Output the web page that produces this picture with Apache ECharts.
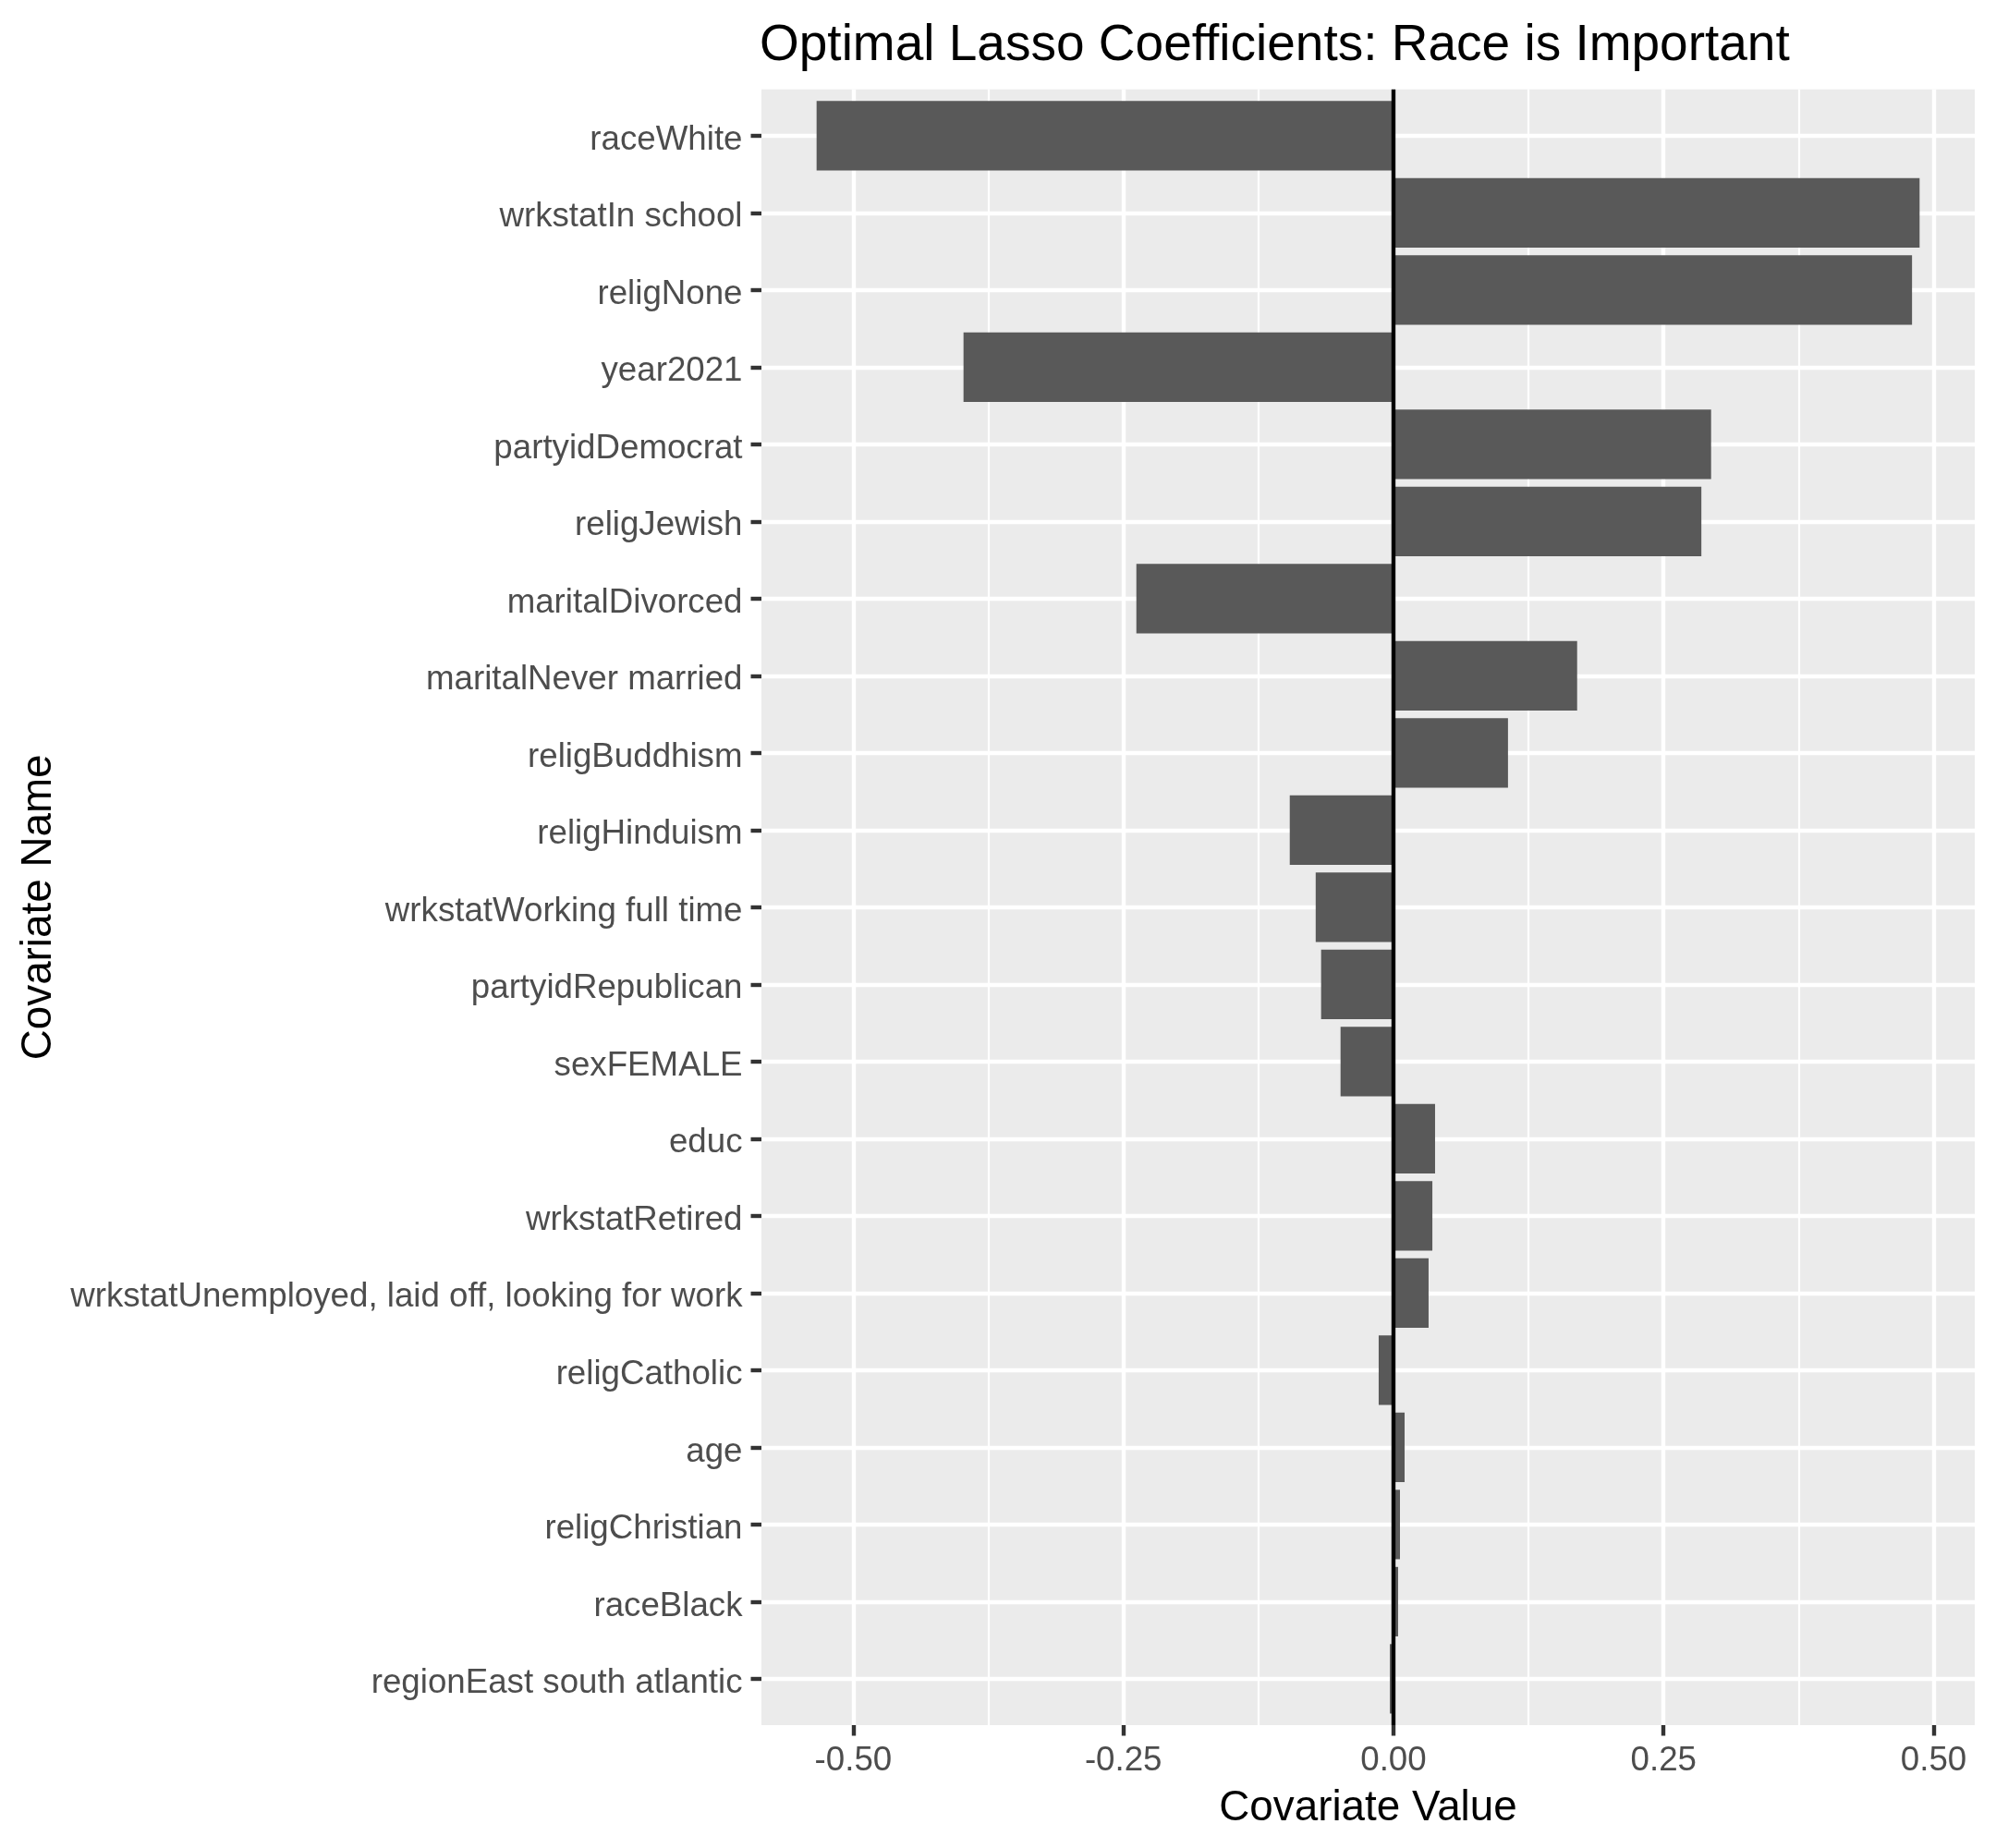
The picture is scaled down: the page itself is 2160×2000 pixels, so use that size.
<html>
<head>
<meta charset="utf-8">
<title>Optimal Lasso Coefficients</title>
<script src="https://cdn.jsdelivr.net/npm/echarts@6.0.0/dist/echarts.min.js"></script>
<style>
    body{
      margin:0;
      background:#ffffff;
    }
    #container{
      width:2160px;
      height:2000px;
    }
</style>
</head>
<body>
<div id="container"></div>
<script type="text/javascript">
    // covariates, top to bottom
    var covariates = ['raceWhite', 'wrkstatIn school', 'religNone', 'year2021', 'partyidDemocrat',
        'religJewish', 'maritalDivorced', 'maritalNever married', 'religBuddhism', 'religHinduism',
        'wrkstatWorking full time', 'partyidRepublican', 'sexFEMALE', 'educ', 'wrkstatRetired',
        'wrkstatUnemployed, laid off, looking for work', 'religCatholic', 'age', 'religChristian',
        'raceBlack', 'regionEast south atlantic'];
    var coefValues = [-0.534, 0.487, 0.480, -0.398, 0.294,
        0.285, -0.238, 0.170, 0.106, -0.096,
        -0.072, -0.067, -0.049, 0.0385, 0.036,
        0.0325, -0.0137, 0.0103, 0.006,
        0.0043, -0.0034];
    var majorTicks = [-0.50, -0.25, 0.00, 0.25, 0.50];
    var minorTicks = [-0.375, -0.125, 0.125, 0.375];
    var zeroLine = [[0, 0], [0, 1]];

    // ggplot style 5% expansion of the x range
    var lo = Math.min.apply(null, coefValues);
    var hi = Math.max.apply(null, coefValues);
    var xMin = lo - 0.05 * (hi - lo);
    var xMax = hi + 0.05 * (hi - lo);

    var font = 'Liberation Sans, Arial, sans-serif';
    var panelTop = 96.7, panelBottom = 1867;
    // discrete axis: 0.6 band expansion at each end
    var band = (panelBottom - panelTop) / (covariates.length - 1 + 1.2);
    var dataTop = panelTop + 0.1 * band;
    var dataBottom = panelBottom - 0.1 * band;

    var dom = document.getElementById("container");
    var myChart = echarts.init(dom, null, {renderer: 'canvas'});
    var option;
    option = {
      animation: false,
      backgroundColor: '#ffffff',
      title: {
        text: 'Optimal Lasso Coefficients: Race is Important',
        left: 822,
        top: 22,
        padding: 0,
        textStyle: {color: '#000000', fontSize: 55, fontWeight: 'normal', fontFamily: font}
      },
      grid: [
        // panel background
        {left: 824, right: 23, top: panelTop, bottom: 2000 - panelBottom, containLabel: false,
         show: true, backgroundColor: '#EBEBEB', borderWidth: 0},
        // bars
        {left: 824, right: 23, top: dataTop, bottom: 2000 - dataBottom, containLabel: false}
      ],
      xAxis: [
        {
          gridIndex: 0, type: 'value', min: xMin, max: xMax,
          axisLine: {show: false, onZero: false},
          axisTick: {show: true, customValues: majorTicks, length: 11.5,
                     lineStyle: {color: '#333333', width: 4.4}},
          axisLabel: {customValues: majorTicks, margin: 20.5, color: '#4D4D4D',
                      fontSize: 36.7, fontFamily: font,
                      formatter: function(v){ return v.toFixed(2); }},
          splitLine: {show: true, lineStyle: {color: '#ffffff', width: 4.4}},
          name: 'Covariate Value', nameLocation: 'middle', nameGap: 67,
          nameTextStyle: {color: '#000000', fontSize: 45.8, fontFamily: font, verticalAlign: 'top'}
        },
        {
          gridIndex: 0, type: 'value', min: xMin, max: xMax, position: 'bottom',
          axisLine: {show: false, onZero: false},
          axisTick: {show: false, customValues: minorTicks},
          axisLabel: {show: false},
          splitLine: {show: true, lineStyle: {color: '#ffffff', width: 2.2}}
        },
        {
          gridIndex: 1, type: 'value', min: xMin, max: xMax, show: false
        }
      ],
      yAxis: [
        {gridIndex: 0, type: 'value', min: 0, max: 1, show: false},
        {
          gridIndex: 1, type: 'category', data: covariates, inverse: true,
          axisLine: {show: false, onZero: false},
          axisTick: {show: true, alignWithLabel: true, interval: 0, length: 11.5,
                     lineStyle: {color: '#333333', width: 4.4}},
          axisLabel: {interval: 0, margin: 20.5,
                      formatter: function(v){ return '{c|' + v + '}'; },
                      rich: {c: {color: '#4D4D4D', fontSize: 36.7, fontFamily: font,
                                 padding: [10, 0, 0, 0]}}},
          splitLine: {show: true, alignWithLabel: true, interval: 0,
                      lineStyle: {color: '#ffffff', width: 4.4}},
          name: 'Covariate Name', nameLocation: 'middle', nameRotate: 90, nameGap: 756,
          nameTextStyle: {color: '#000000', fontSize: 45.8, fontFamily: font}
        }
      ],
      series: [
        {
          type: 'bar', xAxisIndex: 2, yAxisIndex: 1,
          data: coefValues,
          barCategoryGap: '10%',
          itemStyle: {color: '#595959'},
          z: 2
        },
        {
          type: 'line', xAxisIndex: 0, yAxisIndex: 0,
          data: zeroLine,
          symbol: 'none', silent: true,
          lineStyle: {color: '#000000', width: 4.4},
          z: 3
        }
      ]
    };
    if (option && typeof option === 'object') {
        myChart.setOption(option);
    }
</script>
</body>
</html>
